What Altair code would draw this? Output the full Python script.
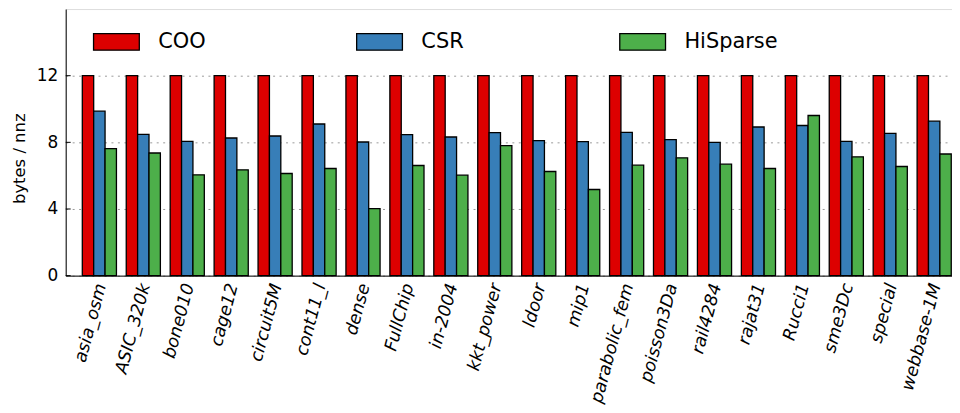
import altair as alt
import pandas as pd

matrices = ["asia_osm", "ASIC_320k", "bone010", "cage12", "circuit5M", "cont11_l",
            "dense", "FullChip", "in-2004", "kkt_power", "ldoor", "mip1",
            "parabolic_fem", "poisson3Da", "rail4284", "rajat31", "Rucci1",
            "sme3Dc", "special", "webbase-1M"]
coo = [12.0, 12.0, 12.0, 12.0, 12.0, 12.0, 12.0, 12.0, 12.0, 12.0,
       12.0, 12.0, 12.0, 12.0, 12.0, 12.0, 12.0, 12.0, 12.0, 12.0]
csr = [9.87, 8.48, 8.06, 8.26, 8.38, 9.10, 8.02, 8.46, 8.32, 8.58,
       8.10, 8.04, 8.60, 8.16, 8.00, 8.92, 9.01, 8.06, 8.54, 9.27]
hisparse = [7.62, 7.36, 6.05, 6.35, 6.13, 6.43, 4.02, 6.61, 6.03, 7.80,
            6.25, 5.17, 6.63, 7.07, 6.69, 6.43, 9.61, 7.13, 6.55, 7.30]
formats = ["COO", "CSR", "HiSparse"]
colors = ["#dd0000", "#377eb8", "#4daf4a"]
yticks = [0, 4, 8, 12]

rows = []
for name, series in zip(formats, [coo, csr, hisparse]):
    for m, v in zip(matrices, series):
        rows.append({"matrix": m, "format": name, "value": v})
df = pd.DataFrame(rows)

FONT = "DejaVu Sans"

bars = alt.Chart(df).mark_bar(stroke="black", strokeWidth=1.3).encode(
    x=alt.X("matrix:N", sort=matrices,
            scale=alt.Scale(paddingInner=0.223, paddingOuter=0.1975, align=0.957, round=False),
            axis=alt.Axis(title=None, labelAngle=-75, labelAlign="right", labelBaseline="middle",
                          labelFontSize=17.5, labelFontStyle="italic", labelPadding=8,
                          labelOffset=2, ticks=False, domainColor="black", domainWidth=1,
                          labelColor="black", labelFont=FONT, grid=False)),
    xOffset=alt.XOffset("format:N", sort=formats, scale=alt.Scale(paddingInner=0, paddingOuter=0)),
    y=alt.Y("value:Q", scale=alt.Scale(domain=[0, 16], nice=False),
            axis=alt.Axis(values=yticks, title="bytes / nnz", titleFontSize=16.5, titleFont=FONT,
                          titleFontWeight="normal", titleColor="black", titleX=-38, titleY=150,
                          labelFontSize=17, labelFont=FONT, labelColor="black", labelPadding=8,
                          ticks=False, domainColor="black", domainWidth=1,
                          grid=True, gridDash=[2, 4.5], gridColor="#999999", gridWidth=1)),
    fill=alt.Fill("format:N", sort=formats,
                  scale=alt.Scale(domain=formats, range=colors),
                  legend=alt.Legend(title=None, orient="none", legendX=27, legendY=9,
                                    direction="horizontal", columns=3, gridAlign="all",
                                    columnPadding=102.5,
                                    symbolType="M-1,-0.36H1V0.36H-1Z", symbolSize=2116,
                                    symbolStrokeColor="black", symbolStrokeWidth=1.3,
                                    symbolOpacity=1, labelFontSize=21, labelOffset=18,
                                    labelFont=FONT, labelColor="black")),
)

ticks = alt.Chart(pd.DataFrame({"value": yticks})).mark_rule(color="black", strokeWidth=1).encode(
    y=alt.Y("value:Q", title="bytes / nnz"),
    x=alt.value(0),
    x2=alt.value(5),
)

chart = alt.layer(bars, ticks).properties(
    width=891, height=268,
    autosize="none",
    padding={"left": 58, "top": 0, "right": 0, "bottom": 129},
).configure_view(stroke=None).configure(font=FONT)

chart.save("out.html", embed_options={"renderer": "svg", "actions": False})
